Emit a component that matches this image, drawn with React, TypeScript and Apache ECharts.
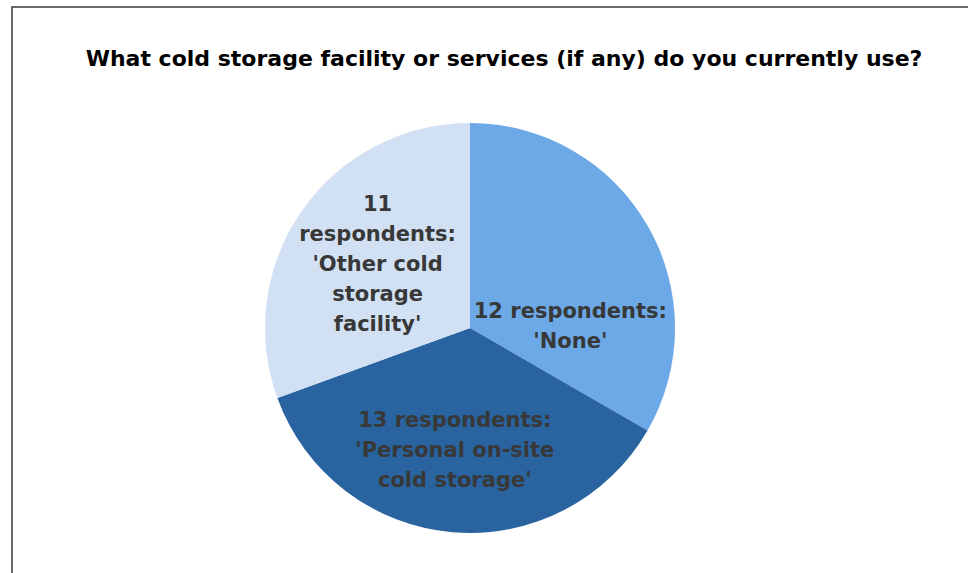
import React, { useEffect, useRef } from "react";
import * as echarts from "echarts";

const titleText = "What cold storage facility or services (if any) do you currently use?";
const categories = ["None", "Personal on-site cold storage", "Other cold storage facility"];
const values = [12, 13, 11];
const sliceColors = ["#6CA9E6", "#2964A0", "#D1E1F3"];
const labelTexts = [
  "12 respondents:\n'None'",
  "13 respondents:\n'Personal on-site\ncold storage'",
  "11\nrespondents:\n'Other cold\nstorage\nfacility'",
];
const labelOffsets = [
  [9, 51],
  [-6, 17],
  [-6, -3],
];

export default function App() {
  const ref = useRef<HTMLDivElement>(null);
  useEffect(() => {
    if (!ref.current) return;
    const chart = echarts.init(ref.current, undefined, { renderer: "svg" });
    const font = "'DejaVu Sans', sans-serif";
    chart.setOption({
      animation: false,
      backgroundColor: "#ffffff",
      title: {
        text: titleText,
        left: 499,
        top: 42,
        textAlign: "center",
        textStyle: { fontFamily: font, fontWeight: "bold", fontSize: 22, color: "#000000" },
      },
      graphic: [
        {
          type: "rect",
          shape: { x: 12, y: 7, width: 1000, height: 620 },
          style: { fill: "none", stroke: "#3a3a3a", lineWidth: 1.5 },
          silent: true,
        },
      ],
      series: [
        {
          type: "pie",
          center: [470, 328],
          radius: 205,
          startAngle: 90,
          clockwise: true,
          label: {
            show: true,
            position: "inside",
            fontFamily: font,
            fontWeight: "bold",
            fontSize: 21,
            lineHeight: 30,
            color: "#383838",
            align: "center",
          },
          labelLine: { show: false },
          itemStyle: { borderWidth: 0 },
          emphasis: { disabled: true },
          data: categories.map((name, i) => ({
            name,
            value: values[i],
            itemStyle: { color: sliceColors[i] },
            label: { formatter: labelTexts[i], offset: labelOffsets[i] },
          })),
        },
      ],
    });
    return () => chart.dispose();
  }, []);
  return (
    <div
      ref={ref}
      style={{ position: "absolute", left: 0, top: 0, width: 968, height: 573 }}
    />
  );
}
